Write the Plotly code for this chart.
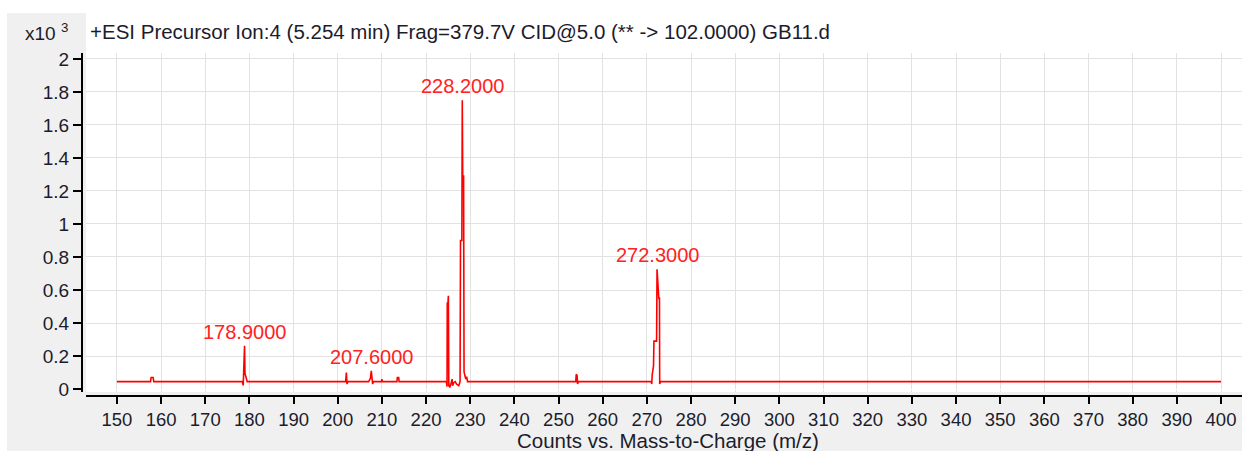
import plotly.graph_objects as go

# ---- data (intensity in counts x10^3) ----
mz = [150.0, 157.6, 157.75, 158.2, 158.35,
      178.4, 178.6, 178.9, 179.0, 179.2, 179.5,
      201.8, 201.95, 202.1, 202.3,
      207.0, 207.2, 207.4, 207.6, 207.75, 207.9, 208.1,
      209.9, 210.0, 210.1,
      213.4, 213.5, 213.8, 213.9,
      224.6, 224.75, 224.8, 224.95, 225.05, 225.15, 225.4, 225.6, 225.9, 226.0,
      226.3, 226.6, 226.9, 227.4, 227.7, 227.8, 228.1, 228.2, 228.3, 228.5,
      228.6, 228.8, 229.0, 229.2, 229.4,
      253.9, 254.0, 254.2, 254.3, 254.5,
      271.0, 271.1, 271.2, 271.5, 271.6, 272.2, 272.3, 272.7, 272.85, 272.9, 273.1,
      400.0]
intensity = [0.045, 0.045, 0.07, 0.07, 0.045,
             0.045, 0.022, 0.262, 0.095, 0.08, 0.045,
             0.045, 0.10, 0.03, 0.045,
             0.045, 0.06, 0.065, 0.11, 0.06, 0.03, 0.045,
             0.045, 0.06, 0.045,
             0.045, 0.07, 0.07, 0.045,
             0.045, 0.015, 0.52, 0.52, 0.565, 0.02, 0.01, 0.03, 0.06, 0.02,
             0.04, 0.045, 0.03, 0.02, 0.045, 0.90, 0.90, 1.75, 1.29, 1.29,
             0.105, 0.08, 0.06, 0.075, 0.045,
             0.045, 0.09, 0.08, 0.03, 0.045,
             0.045, 0.03, 0.085, 0.14, 0.29, 0.29, 0.725, 0.55, 0.55, 0.03, 0.045,
             0.045]
peak_labels = [178.9, 207.6, 228.2, 272.3]
x_ticks = list(range(150, 401, 10))
title_text = "+ESI Precursor Ion:4 (5.254 min) Frag=379.7V CID@5.0 (** -> 102.0000) GB11.d"
x_title = "Counts vs. Mass-to-Charge (m/z)"
y_scale = "x10 <sup>3</sup>"

# ---- layout geometry (pixels) ----
W, H = 1242, 451
ML, MR, MT, MB = 82, 0, 53, 55
PW, PH = W - ML - MR, H - MT - MB


def px(x):
    return (x - ML) / PW


def py(y):
    return (H - MB - y) / PH


FONT = "Liberation Sans"
TXT = "#1c1c2c"
RED = "#ff0000"

fig = go.Figure()
fig.add_trace(go.Scatter(x=mz, y=intensity, mode="lines",
                         line=dict(color=RED, width=1.6),
                         hoverinfo="skip", showlegend=False))

annotations = []
for p in peak_labels:
    h = intensity[mz.index(p)]
    annotations.append(dict(x=p, y=h, xref="x", yref="y", text=f"{p:.4f}",
                            showarrow=False, xanchor="center", yanchor="bottom",
                            yshift=1, font=dict(family=FONT, size=20, color="#ff2222")))
annotations.append(dict(x=px(88), y=py(31.5), xref="paper", yref="paper", text=title_text,
                        showarrow=False, xanchor="left", yanchor="middle",
                        font=dict(family=FONT, size=20.5, color=TXT)))
annotations.append(dict(x=px(70), y=py(31.5), xref="paper", yref="paper", text=y_scale,
                        showarrow=False, xanchor="right", yanchor="middle",
                        font=dict(family=FONT, size=19, color=TXT)))
annotations.append(dict(x=px(668), y=py(440.5), xref="paper", yref="paper", text=x_title,
                        showarrow=False, xanchor="center", yanchor="middle", borderpad=0,
                        font=dict(family=FONT, size=20.5, color=TXT)))

shapes = [
    dict(type="rect", xref="paper", yref="paper", x0=px(0), x1=px(W), y0=py(13), y1=py(0),
         fillcolor="white", line=dict(width=0), layer="below"),
    dict(type="rect", xref="paper", yref="paper", x0=px(0), x1=px(7), y0=py(H), y1=py(0),
         fillcolor="white", line=dict(width=0), layer="below"),
    dict(type="rect", xref="paper", yref="paper", x0=px(86), x1=px(W), y0=py(MT), y1=py(13),
         fillcolor="white", line=dict(width=0), layer="below"),
]

fig.update_layout(
    width=W, height=H, autosize=False,
    margin=dict(l=ML, r=MR, t=MT, b=MB, pad=0),
    paper_bgcolor="#f0f0f0", plot_bgcolor="white",
    font=dict(family=FONT, size=19, color=TXT),
    annotations=annotations, shapes=shapes,
    xaxis=dict(domain=[px(86), 1], range=[143.0, 404.75], anchor="free", position=0,
               tickvals=x_ticks, ticks="outside", ticklen=7, tickwidth=1.5, tickcolor="black",
               showline=True, linecolor="black", linewidth=2,
               showgrid=True, gridcolor="#e2e2e2", gridwidth=1.3, zeroline=False,
               tickfont=dict(family=FONT, size=18.5, color=TXT)),
    yaxis=dict(domain=[py(392), 1], range=[-0.018, 2.036], anchor="free", position=0,
               tick0=0, dtick=0.2, ticks="outside", ticklen=8, tickwidth=1.5, tickcolor="black",
               showline=True, linecolor="black", linewidth=2,
               showgrid=True, gridcolor="#e2e2e2", gridwidth=1.3,
               zeroline=True, zerolinecolor="white", zerolinewidth=1,
               tickfont=dict(family=FONT, size=19, color=TXT)),
)

fig.write_html("out.html", config={"displayModeBar": False},
               post_script="document.body.style.margin='0px';"
                           "document.body.style.overflow='hidden';")
